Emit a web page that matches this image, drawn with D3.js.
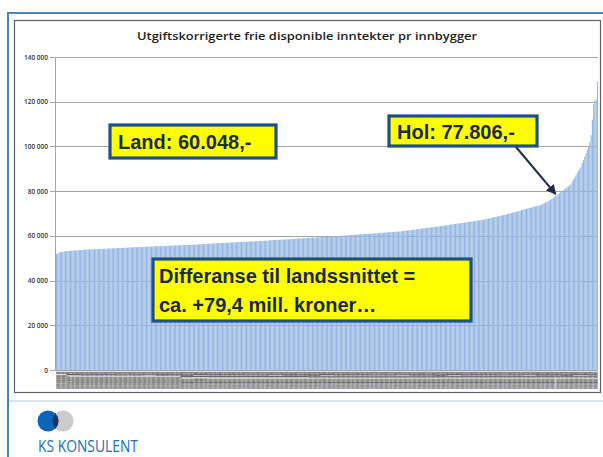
<!DOCTYPE html>
<html>
<head>
<meta charset="utf-8">
<script src="https://cdn.jsdelivr.net/npm/d3@7"></script>
<style>
  body { margin: 0; background: #fff; }
  svg { display: block; }
</style>
</head>
<body>
<svg id="chart" width="603" height="457"></svg>
<script>
// kommuner sorted by value (kr per innbygger)
var values = [
  51800, 52300, 52500, 52700, 52800, 52900, 53000, 53100, 53100, 53200,
  53250, 53300, 53350, 53400, 53450, 53500, 53550, 53600, 53600, 53650,
  53700, 53750, 53800, 53850, 53900,
  53930, 53950, 53980, 54000, 54020, 54050, 54080, 54100, 54120, 54150,
  54170, 54200, 54220, 54250, 54270, 54300, 54320, 54350, 54370, 54400,
  54420, 54450, 54480, 54500, 54520, 54550, 54580, 54600, 54630, 54650,
  54680, 54700, 54750, 54800,
  54830, 54850, 54880, 54900, 54930, 54950, 54980, 55000, 55030, 55050,
  55080, 55100, 55120, 55150, 55180, 55200, 55230, 55250, 55280, 55300,
  55320, 55350, 55380, 55400, 55420, 55450, 55480, 55500, 55530, 55550,
  55580, 55600, 55620, 55650, 55680, 55700, 55720, 55750, 55780, 55800,
  55830, 55850, 55880, 55900, 55930, 55950, 55980, 56000, 56030, 56060,
  56100, 56130, 56170, 56200, 56250, 56300,
  56330, 56360, 56390, 56420, 56450, 56480, 56510, 56540, 56570, 56600,
  56630, 56660, 56690, 56720, 56750, 56780, 56810, 56840, 56870, 56900,
  56930, 56960, 56990, 57020, 57050, 57080, 57110, 57140, 57170, 57200,
  57230, 57260, 57290, 57320, 57350, 57380, 57410, 57440, 57470, 57500,
  57530, 57560, 57590, 57620, 57650, 57680, 57710, 57740, 57770, 57800,
  57840, 57880, 57920, 57960, 58000,
  58040, 58070, 58110, 58140, 58180, 58210, 58250, 58280, 58320, 58350,
  58390, 58420, 58460, 58500, 58530, 58570, 58600, 58640, 58680, 58710,
  58750, 58780, 58820, 58860, 58890, 58930, 58960, 59000, 59040, 59070,
  59110, 59140, 59180, 59220, 59250, 59290, 59320, 59360, 59400, 59430,
  59470, 59500, 59540, 59580, 59610, 59650, 59680, 59720, 59760, 59790,
  59830, 59860, 59900, 59950, 60000,
  60040, 60080, 60120, 60170, 60210, 60250, 60290, 60330, 60380, 60420,
  60460, 60500, 60540, 60590, 60630, 60670, 60710, 60750, 60800, 60840,
  60880, 60920, 60960, 61010, 61050, 61090, 61130, 61170, 61220, 61260,
  61300, 61340, 61380, 61430, 61470, 61510, 61550, 61600, 61640, 61680,
  61720, 61760, 61800, 61840, 61880, 61920, 61960, 62000,
  62080, 62150, 62230, 62300, 62380, 62450, 62530, 62600, 62680, 62750,
  62830, 62900, 62980, 63050, 63130, 63200, 63280, 63350, 63430, 63500,
  63580, 63650, 63730, 63800, 63880, 63950, 64030, 64100, 64180, 64250,
  64330, 64400, 64480, 64550, 64630, 64700, 64780, 64850, 65000,
  65080, 65170, 65250, 65330, 65420, 65500, 65580, 65670, 65750, 65830,
  65920, 66000, 66080, 66170, 66250, 66330, 66420, 66500, 66580, 66670,
  66750, 66830, 66920, 67000,
  67120, 67250, 67370, 67500, 67620, 67750, 67870, 68000, 68120, 68250,
  68370, 68500, 68620, 68750, 68870, 69000,
  69150, 69300, 69450, 69600, 69750, 69900, 70050, 70200, 70350, 70500,
  70650, 70800, 70950, 71100, 71300, 71500,
  71650, 71800, 71950, 72100, 72250, 72400, 72550, 72700, 72850, 73000,
  73150, 73300, 73450, 73580, 73700,
  74000, 74300, 74600, 74900, 75200, 75500, 75800, 76100, 76500, 76900, 77300,
  77806, 78200, 78600, 79000, 79500, 79900, 80300, 80800, 81300, 81700,
  82100, 82500, 83000, 84000, 85000, 86000, 87000, 88000, 89000, 90000,
  90700, 92500, 94000, 95500, 97000, 98500, 100000, 102000, 105000, 112000,
  119000, 120500, 121000, 129000
];

var holIndex = 394;
// category names are unreadable in the picture, placeholders except Hol
var categories = values.map(function(d, i) { return i === holIndex ? "Hol" : "Kommune " + (i + 1); });

var yTicks = [0, 20000, 40000, 60000, 80000, 100000, 120000, 140000];

var title = "Utgiftskorrigerte frie disponible inntekter pr innbygger";
var landLabel = "Land: 60.048,-";
var holLabel = "Hol: 77.806,-";
var diffLines = ["Differanse til landssnittet =", "ca. +79,4 mill. kroner…"];
var logoText = "KS KONSULENT";

var svg = d3.select("#chart");
var defs = svg.append("defs");

var x = d3.scaleBand()
    .domain(categories)
    .range([56, 598])
    .paddingInner(0.14);

var y = d3.scaleLinear()
    .domain([0, 140000])
    .range([370, 57]);

var fmt = function(d) { return d3.format(",")(d).replace(/,/g, " "); };

// slide frame
svg.append("line").attr("x1", 8).attr("x2", 603).attr("y1", 13).attr("y2", 13)
    .attr("stroke", "#4f81bd").attr("stroke-width", 2);
svg.append("line").attr("x1", 8).attr("x2", 8).attr("y1", 12).attr("y2", 457)
    .attr("stroke", "#4f81bd").attr("stroke-width", 2);
svg.append("line").attr("x1", 9).attr("x2", 603).attr("y1", 401).attr("y2", 401)
    .attr("stroke", "#dfe6ef").attr("stroke-width", 2);

// chart box
svg.append("rect").attr("x", 14.5).attr("y", 20.5).attr("width", 586).attr("height", 372)
    .attr("fill", "#fff").attr("stroke", "#5a5f6a").attr("stroke-width", 1.2);

svg.append("text")
    .attr("x", 307).attr("y", 40)
    .attr("text-anchor", "middle")
    .attr("font-family", "Open Sans, sans-serif")
    .attr("font-size", 11.5)
    .attr("font-weight", 600)
    .attr("fill", "#222")
    .attr("textLength", 340)
    .attr("lengthAdjust", "spacingAndGlyphs")
    .text(title);

// gridlines + y axis
var grid = svg.append("g");
grid.selectAll("line.grid")
    .data(yTicks)
    .enter().append("line")
    .attr("class", "grid")
    .attr("x1", 50).attr("x2", 598)
    .attr("y1", function(d) { return Math.round(y(d)) + 0.5; })
    .attr("y2", function(d) { return Math.round(y(d)) + 0.5; })
    .attr("stroke", "#a6a6a6").attr("stroke-width", 1);

grid.append("line")
    .attr("x1", 55.5).attr("x2", 55.5).attr("y1", y(140000)).attr("y2", y(0))
    .attr("stroke", "#a6a6a6");

grid.selectAll("text")
    .data(yTicks)
    .enter().append("text")
    .attr("x", 48)
    .attr("y", function(d) { return y(d) + 2.5; })
    .attr("text-anchor", "end")
    .attr("font-family", "Open Sans, sans-serif")
    .attr("font-size", 6.5)
    .attr("font-weight", 600)
    .attr("fill", "#333")
    .text(fmt);

// x labels (tiny rotated names), clipped to the band under the axis
defs.append("clipPath").attr("id", "xband")
    .append("rect").attr("x", 56).attr("y", 371).attr("width", 542).attr("height", 18);
var xl = svg.append("g").attr("clip-path", "url(#xband)");
xl.append("rect").attr("x", 56).attr("y", 371).attr("width", 542).attr("height", 18)
    .attr("fill", "#dcdcdc");
xl.selectAll("text")
    .data(categories)
    .enter().append("text")
    .attr("transform", function(d) { return "translate(" + (x(d) + x.bandwidth() / 2 + 1) + ",372) rotate(-90)"; })
    .attr("text-anchor", "end")
    .attr("font-family", "Liberation Sans, sans-serif")
    .attr("font-size", 3.4)
    .attr("fill", "#555")
    .text(function(d) { return d; });

// bars
svg.append("g").selectAll("rect")
    .data(values)
    .enter().append("rect")
    .attr("x", function(d, i) { return x(categories[i]); })
    .attr("width", x.bandwidth())
    .attr("y", function(d) { return y(d); })
    .attr("height", function(d) { return y(0) - y(d); })
    .attr("fill", "#95b6e2");

// callouts
function callout(bx, by, bw, bh, lines, tx, ty, lh) {
    var g = svg.append("g");
    g.append("rect").attr("x", bx).attr("y", by).attr("width", bw).attr("height", bh)
        .attr("fill", "#ffff00").attr("stroke", "#1d4f8f").attr("stroke-width", 3.2);
    lines.forEach(function(t, i) {
        g.append("text")
            .attr("x", tx).attr("y", ty + i * lh)
            .attr("font-family", "Liberation Sans, Arial, sans-serif")
            .attr("font-size", 20)
            .attr("font-weight", "bold")
            .attr("fill", "#1b2a47")
            .text(t);
    });
}

callout(110, 125, 166, 33, [landLabel], 118, 149, 0);
callout(389, 116, 148, 30, [holLabel], 397, 139, 0);
callout(153, 259, 318, 62, diffLines, 159, 283, 29);

// arrow to Hol
defs.append("marker")
    .attr("id", "head").attr("viewBox", "0 0 10 10")
    .attr("refX", 9).attr("refY", 5)
    .attr("markerWidth", 5).attr("markerHeight", 5)
    .attr("orient", "auto")
    .append("path").attr("d", "M0,0 L10,5 L0,10 z").attr("fill", "#1b2a47");

var hx = x(categories[holIndex]) + x.bandwidth() / 2;
svg.append("line")
    .attr("x1", 516).attr("y1", 147)
    .attr("x2", hx).attr("y2", y(values[holIndex]) - 2)
    .attr("stroke", "#1b2a47").attr("stroke-width", 2)
    .attr("marker-end", "url(#head)");

// logo
svg.append("circle").attr("cx", 63).attr("cy", 421).attr("r", 10.5).attr("fill", "#cbc9c9");
svg.append("circle").attr("cx", 48).attr("cy", 421).attr("r", 10.5).attr("fill", "#0d65b8");
defs.append("clipPath").attr("id", "lens")
    .append("circle").attr("cx", 63).attr("cy", 421).attr("r", 10.5);
svg.append("circle").attr("cx", 48).attr("cy", 421).attr("r", 10.5)
    .attr("fill", "#1a3466").attr("clip-path", "url(#lens)");
svg.append("text")
    .attr("x", 38).attr("y", 452)
    .attr("font-family", "Open Sans, sans-serif")
    .attr("font-size", 17)
    .attr("fill", "#2670b6")
    .attr("textLength", 100)
    .attr("lengthAdjust", "spacingAndGlyphs")
    .text(logoText);
</script>
</body>
</html>
